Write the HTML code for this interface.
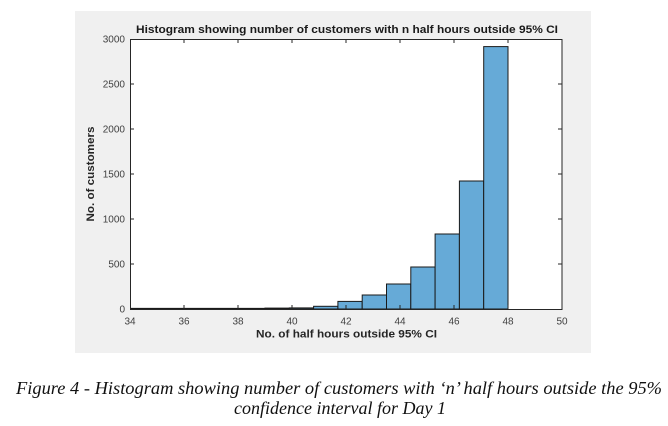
<!DOCTYPE html>
<html>
<head>
<meta charset="utf-8">
<style>
html,body{margin:0;padding:0;background:#fff;}
body{width:668px;height:426px;overflow:hidden;}
svg{display:block;}
</style>
</head>
<body>
<svg width="668" height="426" viewBox="0 0 668 426" xmlns="http://www.w3.org/2000/svg">
  <rect x="0" y="0" width="668" height="426" fill="#ffffff"/>
  <rect x="75" y="11" width="516" height="342" fill="#f0f0f0"/>
  <rect x="130" y="39" width="432" height="270" fill="#ffffff"/>

  <!-- bars -->
  <g fill="#66aad7" stroke="#1a1a1a" stroke-width="1">
    <rect x="265" y="308.1" width="24.3" height="0.9"/>
    <rect x="289.3" y="307.9" width="24.3" height="1.1"/>
    <rect x="313.6" y="306.3" width="24.3" height="2.7"/>
    <rect x="337.9" y="301.4" width="24.3" height="7.6"/>
    <rect x="362.2" y="295" width="24.3" height="14"/>
    <rect x="386.5" y="284" width="24.3" height="25"/>
    <rect x="410.8" y="267" width="24.3" height="42"/>
    <rect x="435.1" y="234" width="24.3" height="75"/>
    <rect x="459.4" y="181" width="24.3" height="128"/>
    <rect x="483.7" y="46.6" width="24.3" height="262.4"/>
  </g>
  <line x1="130" y1="308.6" x2="265" y2="308.6" stroke="#1a1a1a" stroke-width="1.5"/>

  <!-- axes box -->
  <rect x="130.5" y="39.5" width="431.5" height="270" fill="none" stroke="#262626" stroke-width="1"/>

  <!-- ticks -->
  <g stroke="#262626" stroke-width="1">
    <line x1="184" y1="309" x2="184" y2="305"/><line x1="184" y1="39" x2="184" y2="43"/>
    <line x1="238" y1="309" x2="238" y2="305"/><line x1="238" y1="39" x2="238" y2="43"/>
    <line x1="292" y1="309" x2="292" y2="305"/><line x1="292" y1="39" x2="292" y2="43"/>
    <line x1="346" y1="309" x2="346" y2="305"/><line x1="346" y1="39" x2="346" y2="43"/>
    <line x1="400" y1="309" x2="400" y2="305"/><line x1="400" y1="39" x2="400" y2="43"/>
    <line x1="454" y1="309" x2="454" y2="305"/><line x1="454" y1="39" x2="454" y2="43"/>
    <line x1="508" y1="309" x2="508" y2="305"/><line x1="508" y1="39" x2="508" y2="43"/>
    <line x1="130" y1="264" x2="134" y2="264"/><line x1="562" y1="264" x2="558" y2="264"/>
    <line x1="130" y1="219" x2="134" y2="219"/><line x1="562" y1="219" x2="558" y2="219"/>
    <line x1="130" y1="174" x2="134" y2="174"/><line x1="562" y1="174" x2="558" y2="174"/>
    <line x1="130" y1="129" x2="134" y2="129"/><line x1="562" y1="129" x2="558" y2="129"/>
    <line x1="130" y1="84" x2="134" y2="84"/><line x1="562" y1="84" x2="558" y2="84"/>
  </g>

  <!-- y tick labels -->
  <g font-family="'Liberation Sans', sans-serif" font-size="10" fill="#404040" text-anchor="end">
    <text x="125" y="312.5">0</text>
    <text x="125" y="267.5">500</text>
    <text x="125" y="222.5">1000</text>
    <text x="125" y="177.5">1500</text>
    <text x="125" y="132.5">2000</text>
    <text x="125" y="87.5">2500</text>
    <text x="125" y="42.5">3000</text>
  </g>

  <!-- x tick labels -->
  <g font-family="'Liberation Sans', sans-serif" font-size="10" fill="#404040" text-anchor="middle">
    <text x="130" y="324.5">34</text>
    <text x="184" y="324.5">36</text>
    <text x="238" y="324.5">38</text>
    <text x="292" y="324.5">40</text>
    <text x="346" y="324.5">42</text>
    <text x="400" y="324.5">44</text>
    <text x="454" y="324.5">46</text>
    <text x="508" y="324.5">48</text>
    <text x="562" y="324.5">50</text>
  </g>

  <!-- title & labels -->
  <text x="347" y="33" font-family="'Liberation Sans', sans-serif" font-size="11" font-weight="bold" fill="#1a1a1a" text-anchor="middle" textLength="422" lengthAdjust="spacingAndGlyphs">Histogram showing number of customers with n half hours outside 95% CI</text>
  <text x="346.5" y="337.5" font-family="'Liberation Sans', sans-serif" font-size="11" font-weight="bold" fill="#262626" text-anchor="middle" textLength="181" lengthAdjust="spacingAndGlyphs">No. of half hours outside 95% CI</text>
  <text transform="translate(94,174) rotate(-90)" x="0" y="0" font-family="'Liberation Sans', sans-serif" font-size="11" font-weight="bold" fill="#262626" text-anchor="middle" textLength="95" lengthAdjust="spacingAndGlyphs">No. of customers</text>

  <!-- caption -->
  <text x="339" y="394" font-family="'Liberation Serif', serif" font-style="italic" font-size="18" fill="#111" text-anchor="middle" textLength="646" lengthAdjust="spacingAndGlyphs">Figure 4 - Histogram showing number of customers with ‘n’ half hours outside the 95%</text>
  <text x="340" y="414" font-family="'Liberation Serif', serif" font-style="italic" font-size="18" fill="#111" text-anchor="middle" textLength="212" lengthAdjust="spacingAndGlyphs">confidence interval for Day 1</text>
</svg>
</body>
</html>
